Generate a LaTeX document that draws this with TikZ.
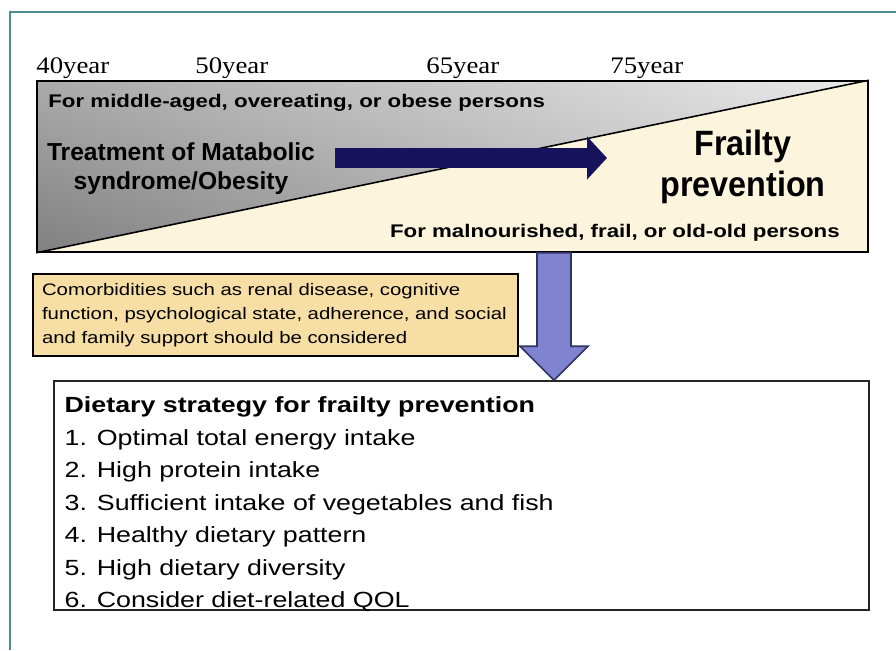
\documentclass[tikz,border=0pt]{standalone}
\usepackage{fontspec}
\setmainfont{Liberation Sans}
\newfontfamily\widesans[FakeStretch=1.22]{Liberation Sans}
\newfontfamily\wideserif[FakeStretch=1.13]{Liberation Serif}
\newfontfamily\tallsans[FakeStretch=0.92]{Liberation Sans}
\usepackage{tikz}
\usetikzlibrary{positioning}
\usetikzlibrary{calc}
\usetikzlibrary{arrows.meta}
\usetikzlibrary{backgrounds}
\usetikzlibrary{shadings}
\definecolor{frameTeal}{RGB}{74,142,142}
\definecolor{greyUL}{RGB}{170,170,170}
\definecolor{greyLL}{RGB}{128,128,128}
\definecolor{greyUR}{RGB}{234,234,234}
\definecolor{greyLR}{RGB}{200,200,200}
\definecolor{cream}{RGB}{253,244,222}
\definecolor{noteOrange}{RGB}{247,222,164}
\definecolor{navyArrow}{RGB}{22,18,92}
\definecolor{downBlue}{RGB}{128,131,208}
\definecolor{downEdge}{RGB}{50,50,100}
\tikzset{yearlabel/.style={anchor=base west, inner sep=0pt, font=\wideserif\fontsize{13.5}{16}\selectfont}}
\tikzset{grouplabel/.style={anchor=base west, inner sep=0pt, font=\widesans\bfseries\fontsize{10.4}{12}\selectfont}}
\tikzset{treatlabel/.style={align=center, inner sep=0pt, font=\bfseries\fontsize{14}{16.5}\selectfont}}
\tikzset{frailtylabel/.style={align=center, inner sep=0pt, font=\tallsans\bfseries\fontsize{20}{23.3}\selectfont}}
\tikzset{band/.style={draw, line width=0.9pt, minimum width=16.62cm, minimum height=3.42cm, inner sep=0pt}}
\tikzset{notebox/.style={draw, line width=0.9pt, fill=noteOrange, minimum width=9.7cm, minimum height=1.64cm, text width=9.34cm, inner sep=0.18cm, align=left, font=\widesans\fontsize{9.5}{13.7}\selectfont}}
\tikzset{dietbox/.style={draw=black!85, line width=0.9pt, minimum width=16.3cm, minimum height=4.58cm, inner sep=0pt}}
\tikzset{dietlist/.style={anchor=north west, inner sep=0pt, align=left, font=\widesans\fontsize{12.5}{18.5}\selectfont}}
\tikzset{shiftarrow/.style={draw=navyArrow, line width=0.4cm, -{Triangle[length=0.4cm, width=0.84cm]}}}
\tikzset{downarrow/.style={draw=downEdge, line width=0.9pt, fill=downBlue, line join=miter}}

\begin{document}
\begin{tikzpicture}[x=0.02cm, y=-0.02cm]

\useasboundingbox (0,0) rectangle (896,650);
\draw[frameTeal, line width=0.9pt] (10,650) -- (10,12) -- (896,12);

\node[yearlabel] (y40) at (36, 73) {40year};
\node[yearlabel] (y50) at (195, 73) {50year};
\node[yearlabel] (y65) at (426, 73) {65year};
\node[yearlabel] (y75) at (610, 73) {75year};

\node[band] (band) at (452.5, 166.5) {};
\begin{scope}[on background layer]
\shade[upper left=greyUL, lower left=greyLL, upper right=greyUR, lower right=greyLR] (band.south west) -- (band.north west) -- (band.north east) -- cycle;
\fill[cream] (band.south west) -- (band.south east) -- (band.north east) -- cycle;
\end{scope}
\draw[line width=0.9pt] (band.south west) -- (band.north east);

\node[grouplabel] (middle) at (48, 107) {For middle-aged, overeating, or obese persons};
\node[treatlabel] (treat) at (181, 169) {Treatment of Matabolic\\syndrome/Obesity};
\node[frailtylabel] (frailty) at (743, 167) {Frailty\\prevention};
\node[grouplabel, anchor=base east] (malnour) at (840, 237) {For malnourished, frail, or old-old persons};

\coordinate (arrS) at (335, 158);
\coordinate (arrE) at (607, 158);
\draw[shiftarrow] (arrS) -- (arrE);

\node[notebox] (como) at (275.5, 315) {Comorbidities such as renal disease, cognitive\\function, psychological state, adherence, and social\\and family support should be considered};

\node[dietbox] (diet) at (461.5, 495.5) {};
\node[dietlist, below right=0.32cm and 0.22cm of diet.north west] (steps) {\textbf{Dietary strategy for frailty prevention}\\1.\hspace{0.45em}Optimal total energy intake\\2.\hspace{0.45em}High protein intake\\3. Sufficient intake of vegetables and fish\\4.\hspace{0.45em}Healthy dietary pattern\\5.\hspace{0.45em}High dietary diversity\\6.\hspace{0.45em}Consider diet-related QOL};

\coordinate (downX) at (554, 0);
\coordinate (downTop) at (band.south -| downX);
\coordinate (downTip) at (diet.north -| downX);
\draw[downarrow] ($(downTop)+(-17,0)$) -- ($(downTop)+(17,0)$) -- ($(downTip)+(17,-34)$) -- ($(downTip)+(34,-34)$) -- (downTip) -- ($(downTip)+(-34,-34)$) -- ($(downTip)+(-17,-34)$) -- cycle;

\end{tikzpicture}
\end{document}
